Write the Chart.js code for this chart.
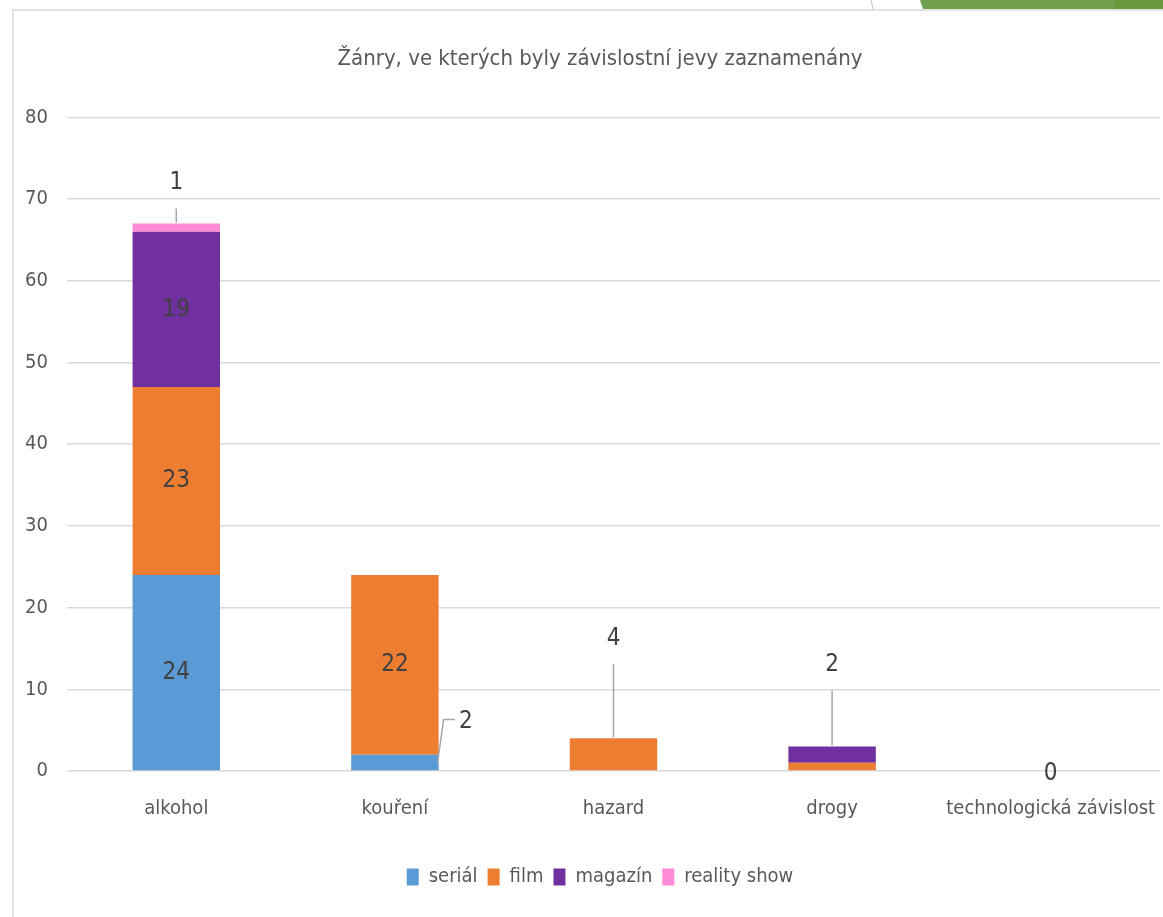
<!DOCTYPE html>
<html>
<head>
<meta charset="utf-8">
<script src="https://cdn.jsdelivr.net/npm/chart.js@4"></script>
<style>
  html, body { margin: 0; padding: 0; background: #fff; }
  #wrap { width: 1163px; height: 917px; }
</style>
</head>
<body>
<div id="wrap"><canvas id="genres"></canvas></div>
<script>
var categories = ['alkohol', 'kouření', 'hazard', 'drogy', 'technologická závislost'];
var serial = [24, 2, 0, 0, 0];
var film = [23, 22, 4, 1, 0];
var magazin = [19, 0, 0, 2, 0];
var realityShow = [1, 0, 0, 0, 0];
var yTicks = [0, 10, 20, 30, 40, 50, 60, 70, 80];

var FONT = '"DejaVu Sans Condensed", "Liberation Sans Narrow", sans-serif';
var TEXT = '#595959';

// how each value label is placed: [datasetIndex, dataIndex, mode]
var labelSpots = [
  [0, 0, 'inside'], [1, 0, 'inside'], [2, 0, 'inside'], [3, 0, 'above'],
  [0, 1, 'callout'], [1, 1, 'inside'],
  [1, 2, 'above'],
  [2, 3, 'above'],
  [0, 4, 'zero']
];
var aboveLift = { '3,0': 41, '1,2': 100, '2,3': 82 };

var frame = {
  id: 'frame',
  beforeDraw: function (chart) {
    var c = chart.ctx;
    c.save();
    c.fillStyle = '#fff';
    c.fillRect(0, 0, chart.width, chart.height);
    // slide decoration top right
    c.fillStyle = '#70a04e';
    c.beginPath();
    c.moveTo(920, 0); c.lineTo(1163, 0); c.lineTo(1163, 9); c.lineTo(923, 9);
    c.closePath(); c.fill();
    c.fillStyle = '#68993c';
    c.fillRect(1115, 0, 48, 9);
    c.strokeStyle = '#bfbfbf';
    c.lineWidth = 1;
    c.beginPath(); c.moveTo(871, 0); c.lineTo(873, 9); c.stroke();
    c.strokeStyle = '#d9d9d9';
    c.lineWidth = 1.5;
    c.beginPath();
    c.moveTo(13, chart.height); c.lineTo(13, 10); c.lineTo(chart.width, 10);
    c.stroke();
    c.restore();
  }
};

var valueLabels = {
  id: 'valueLabels',
  afterDatasetsDraw: function (chart) {
    var c = chart.ctx;
    c.save();
    c.font = '24px ' + FONT;
    c.fillStyle = '#404040';
    c.textAlign = 'center';
    c.textBaseline = 'middle';
    c.strokeStyle = '#a6a6a6';
    c.lineWidth = 1.5;
    labelSpots.forEach(function (s) {
      var ds = s[0], i = s[1], mode = s[2];
      var bar = chart.getDatasetMeta(ds).data[i];
      var val = chart.data.datasets[ds].data[i];
      var top = Math.min(bar.y, bar.base);
      var mid = (bar.y + bar.base) / 2;
      if (mode === 'inside') {
        c.fillText(val, bar.x, mid);
      } else if (mode === 'above') {
        var ly = top - aboveLift[ds + ',' + i];
        c.beginPath(); c.moveTo(bar.x, ly + 26); c.lineTo(bar.x, top - 1); c.stroke();
        c.fillText(val, bar.x, ly);
      } else if (mode === 'callout') {
        var right = bar.x + bar.width / 2;
        var lx = bar.x + 71, ly2 = mid - 41;
        c.beginPath();
        c.moveTo(right - 1, mid);
        c.lineTo(right + 5, ly2 - 2);
        c.lineTo(lx - 11, ly2 - 2);
        c.stroke();
        c.fillText(val, lx, ly2);
      } else {
        c.fillText(val, bar.x, bar.base + 3);
      }
    });
    c.restore();
  }
};

new Chart(document.getElementById('genres'), {
  type: 'bar',
  data: {
    labels: categories,
    datasets: [
      { label: 'seriál', data: serial, backgroundColor: '#5b9bd5' },
      { label: 'film', data: film, backgroundColor: '#ed7d31' },
      { label: 'magazín', data: magazin, backgroundColor: '#7030a0' },
      { label: 'reality show', data: realityShow, backgroundColor: '#ff8ad6' }
    ]
  },
  options: {
    responsive: true,
    maintainAspectRatio: false,
    animation: false,
    datasets: { bar: { categoryPercentage: 0.4, barPercentage: 1 } },
    layout: { padding: { top: 10, left: 40, right: 3, bottom: 20 } },
    plugins: {
      title: {
        display: true,
        text: 'Žánry, ve kterých byly závislostní jevy zaznamenány',
        color: TEXT,
        font: { family: FONT, size: 22, weight: 'normal' },
        padding: { top: 36, bottom: 45 }
      },
      legend: {
        position: 'bottom',
        labels: {
          color: TEXT,
          font: { family: FONT, size: 20 },
          boxWidth: 12,
          boxHeight: 17,
          padding: 10
        }
      },
      tooltip: { enabled: false }
    },
    scales: {
      x: {
        stacked: true,
        grid: { display: false, drawTicks: false },
        border: { display: false },
        ticks: { color: TEXT, font: { family: FONT, size: 20 }, padding: 26, maxRotation: 0, autoSkip: false },
        afterFit: function (s) { s.height = 86; s.paddingLeft = 0; s.paddingRight = 0; }
      },
      y: {
        stacked: true,
        min: 0,
        max: 80,
        grid: { color: '#d9d9d9', lineWidth: 1.5, drawTicks: false },
        border: { display: false },
        ticks: { color: TEXT, font: { family: FONT, size: 20 }, padding: 19, stepSize: 10 },
        afterBuildTicks: function (s) { s.ticks = yTicks.map(function (v) { return { value: v }; }); },
        afterFit: function (s) {
          s.width = 27;
          // tick labels reach left of the axis box; do not clip them
          s._computeLabelArea = function () { return undefined; };
        }
      }
    }
  },
  plugins: [frame, valueLabels]
});
</script>
</body>
</html>
